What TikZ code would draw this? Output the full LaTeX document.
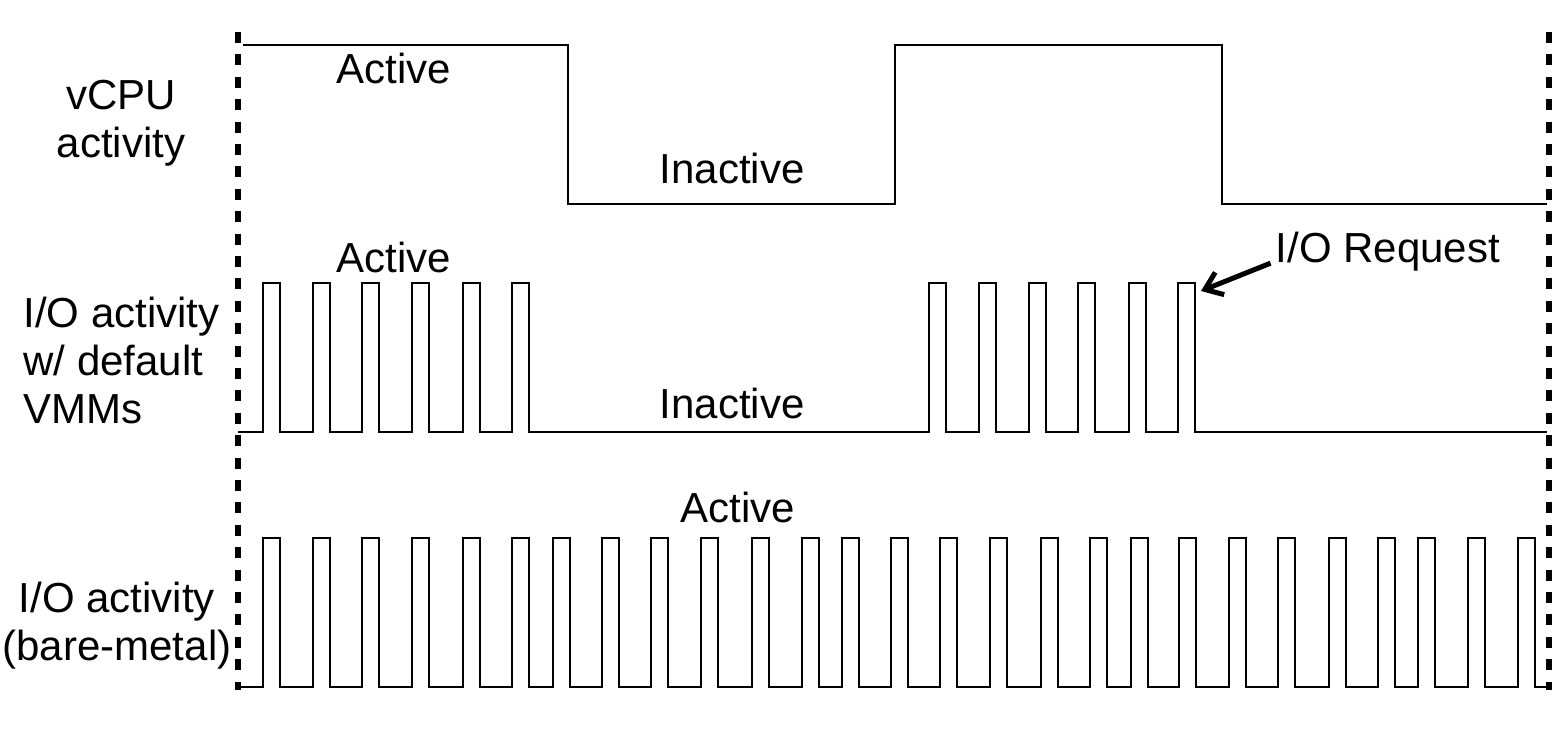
\documentclass[tikz,border=0pt]{standalone}
\usepackage{fontspec}
\setsansfont{Liberation Sans}
\usetikzlibrary{arrows.meta}

\begin{document}
\begin{tikzpicture}[
  x=0.5pt, y=-0.5pt,
  every node/.style={font=\sffamily\fontsize{21}{24}\selectfont, inner sep=0pt},
  sig/.style={line width=1.4pt},
  bound/.style={line width=3pt, dash pattern=on 5.5pt off 5.7pt},
  lbl/.style={anchor=base},
  reqarrow/.style={line width=2.5pt, -{Straight Barb[length=8pt,width=12pt]}}
]
\useasboundingbox (0,0) rectangle (1555,740);

\draw[bound] (238,32) -- (238,690);
\draw[bound] (1549,32) -- (1549,690);

\node[lbl, align=center] (vcpu) at (121,157) {vCPU\\activity};
\node[lbl, anchor=base west, align=left] (iovmm) at (23,423) {I/O activity\\w/ default\\VMMs};
\node[lbl, align=center] (iobare) at (117,660) {I/O activity\\(bare-metal)};

\draw[sig] (243,45) -- (568,45) -- (568,204) -- (895,204) -- (895,45) -- (1222,45) -- (1222,204) -- (1547,204);
\node[lbl] (act1) at (394,83) {Active};
\node[lbl] (inact1) at (732,183) {Inactive};

\draw[sig] (238,432)
  \foreach \x in {263,313,362,412,463,512} { -- (\x,432) -- (\x,283) -- (\x+17,283) -- (\x+17,432) }
  \foreach \x in {929,979,1029,1078,1129,1178} { -- (\x,432) -- (\x,283) -- (\x+17,283) -- (\x+17,432) }
  -- (1547,432);
\node[lbl] (act2) at (394,272) {Active};
\node[lbl] (inact2) at (732,418) {Inactive};

\node[lbl] (req) at (1388,262) {I/O Request};
\coordinate (reqtip) at (1201,291);
\draw[reqarrow] ([shift={(-5,12)}]req.west) -- (reqtip);

\draw[sig] (238,687)
  \foreach \x in {263,313,362,412,463,512,553,602,651,701,752,802,842,891,940,990,1041,1090,1131,1179,1229,1278,1329,1378,1418,1468,1518}
    { -- (\x,687) -- (\x,538) -- (\x+17,538) -- (\x+17,687) }
  -- (1547,687);
\node[lbl] (act3) at (738,522) {Active};
\end{tikzpicture}
\end{document}
